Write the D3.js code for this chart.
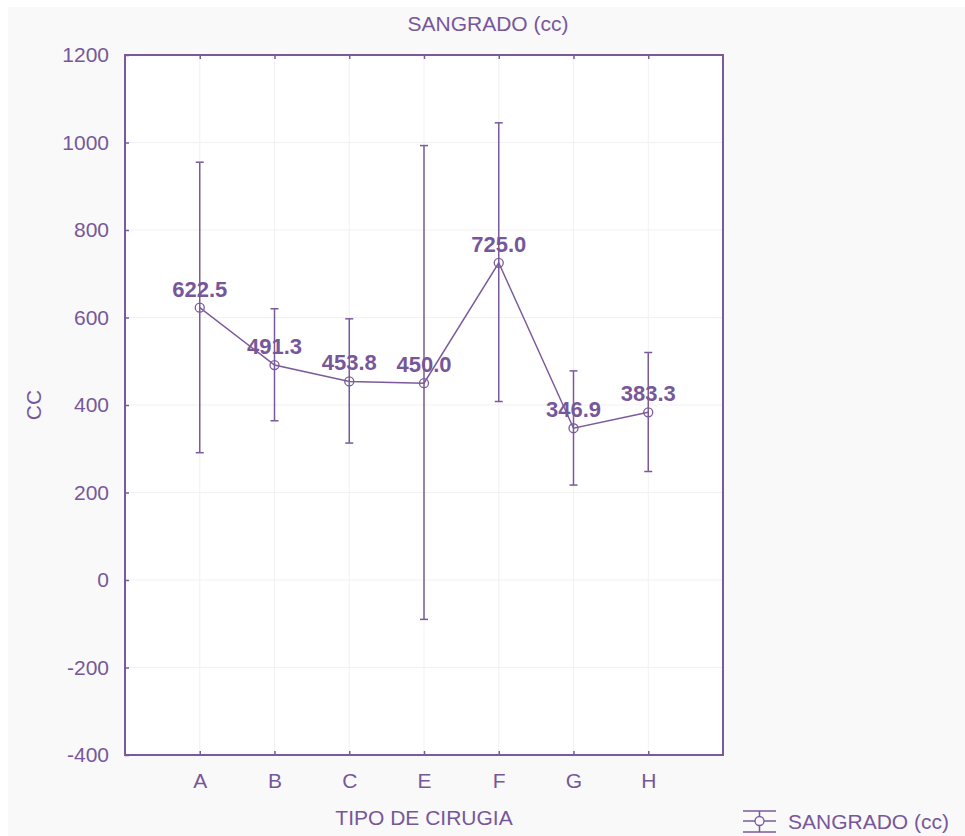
<!DOCTYPE html>
<html>
<head>
<meta charset="utf-8">
<script src="https://cdn.jsdelivr.net/npm/d3@7"></script>
<style>
  body { margin: 0; background: #fff; }
  svg { display: block; font-family: "Liberation Sans", Arial, sans-serif; }
</style>
</head>
<body>
<svg id="chart"></svg>
<script>
// data
const categories = ["A", "B", "C", "E", "F", "G", "H"];
const means = [622.5, 491.3, 453.8, 450.0, 725.0, 346.9, 383.3];
const upper = [955, 620, 597, 993, 1045, 478, 520];
const lower = [291, 364, 313, -90, 408, 217, 248];
const yTicks = [-400, -200, 0, 200, 400, 600, 800, 1000, 1200];

const width = 965, height = 836;
const margin = { top: 55, right: 242, bottom: 81, left: 125 };
const innerWidth = width - margin.left - margin.right;
const innerHeight = height - margin.top - margin.bottom;

const purple = "#7b5a9b";
const textColor = "#77579a";

const svg = d3.select("#chart").attr("width", width).attr("height", height);

// grey panel behind everything
svg.append("rect")
  .attr("x", 8).attr("y", 7)
  .attr("width", width - 8).attr("height", height - 7)
  .attr("fill", "#f9f9fa");

const g = svg.append("g")
  .attr("transform", `translate(${margin.left},${margin.top})`);

const x = d3.scalePoint().domain(categories).range([0, innerWidth]).padding(1);
const y = d3.scaleLinear().domain([-400, 1200]).range([innerHeight, 0]);

g.append("rect")
  .attr("width", innerWidth).attr("height", innerHeight)
  .attr("fill", "#fff");

// grid
g.append("g").selectAll("line.hgrid")
  .data(yTicks)
  .join("line")
  .attr("x1", 0).attr("x2", innerWidth)
  .attr("y1", d => y(d)).attr("y2", d => y(d))
  .attr("stroke", "#f1f0f3").attr("stroke-width", 1);

g.append("g").selectAll("line.vgrid")
  .data(categories)
  .join("line")
  .attr("x1", d => x(d)).attr("x2", d => x(d))
  .attr("y1", 0).attr("y2", innerHeight)
  .attr("stroke", "#f1f0f3").attr("stroke-width", 1);

// axes (ticks point inward), plain hyphen for negatives
const yAxis = g.append("g")
  .call(d3.axisLeft(y).tickValues(yTicks).tickSize(-4).tickPadding(16).tickFormat(d => String(d)));
const xAxis = g.append("g")
  .attr("transform", `translate(0,${innerHeight})`)
  .call(d3.axisBottom(x).tickSize(-4).tickPadding(18));
const topAxis = g.append("g")
  .call(d3.axisTop(x).tickSize(-4).tickFormat(""));

[yAxis, xAxis, topAxis].forEach(a => {
  a.selectAll(".domain").remove();
  a.selectAll(".tick line").attr("stroke", purple).attr("stroke-width", 1.5);
  a.selectAll(".tick text")
    .attr("fill", textColor)
    .style("font-size", "21px");
});

// frame
g.append("rect")
  .attr("width", innerWidth).attr("height", innerHeight)
  .attr("fill", "none")
  .attr("stroke", purple).attr("stroke-width", 2);

// error bars
const bars = g.append("g").selectAll("g.err")
  .data(categories)
  .join("g")
  .attr("class", "err");

bars.append("line")
  .attr("x1", d => x(d)).attr("x2", d => x(d))
  .attr("y1", (d, i) => y(upper[i])).attr("y2", (d, i) => y(lower[i]))
  .attr("stroke", purple).attr("stroke-width", 1.5);

[upper, lower].forEach(arr => {
  bars.append("line")
    .attr("x1", d => x(d) - 4).attr("x2", d => x(d) + 4)
    .attr("y1", (d, i) => y(arr[i])).attr("y2", (d, i) => y(arr[i]))
    .attr("stroke", purple).attr("stroke-width", 1.5);
});

// mean line
const line = d3.line()
  .x((d, i) => x(categories[i]))
  .y(d => y(d));

g.append("path")
  .datum(means)
  .attr("d", line)
  .attr("fill", "none")
  .attr("stroke", purple).attr("stroke-width", 1.5);

g.selectAll("circle.point")
  .data(means)
  .join("circle")
  .attr("class", "point")
  .attr("cx", (d, i) => x(categories[i]))
  .attr("cy", d => y(d))
  .attr("r", 4.5)
  .attr("fill", "none")
  .attr("stroke", purple).attr("stroke-width", 1.3);

g.selectAll("text.value")
  .data(means)
  .join("text")
  .attr("class", "value")
  .attr("x", (d, i) => x(categories[i]))
  .attr("y", d => y(d) - 11)
  .attr("text-anchor", "middle")
  .attr("fill", textColor)
  .style("font-size", "22px")
  .style("font-weight", "bold")
  .text(d => d.toFixed(1));

// titles
svg.append("text")
  .attr("x", 488)
  .attr("y", 31)
  .attr("text-anchor", "middle")
  .attr("fill", textColor)
  .style("font-size", "21px")
  .text("SANGRADO (cc)");

svg.append("text")
  .attr("x", margin.left + innerWidth / 2)
  .attr("y", 825)
  .attr("text-anchor", "middle")
  .attr("fill", textColor)
  .style("font-size", "21px")
  .text("TIPO DE CIRUGIA");

svg.append("text")
  .attr("transform", `translate(41,${margin.top + innerHeight / 2}) rotate(-90)`)
  .attr("text-anchor", "middle")
  .attr("fill", textColor)
  .style("font-size", "21px")
  .text("CC");

// legend
const legend = svg.append("g").attr("transform", "translate(743,821)");
[-10, 0, 11].forEach(dy => {
  legend.append("line")
    .attr("x1", 0).attr("x2", 33)
    .attr("y1", dy).attr("y2", dy)
    .attr("stroke", purple).attr("stroke-width", 1.5);
});
legend.append("line")
  .attr("x1", 16.5).attr("x2", 16.5)
  .attr("y1", -10).attr("y2", 11)
  .attr("stroke", purple).attr("stroke-width", 1.5);
legend.append("circle")
  .attr("cx", 16.5).attr("cy", 0).attr("r", 4.5)
  .attr("fill", "#f9f9fa")
  .attr("stroke", purple).attr("stroke-width", 1.3);
legend.append("text")
  .attr("x", 45).attr("y", 8)
  .attr("fill", textColor)
  .style("font-size", "21px")
  .text("SANGRADO (cc)");
</script>
</body>
</html>
